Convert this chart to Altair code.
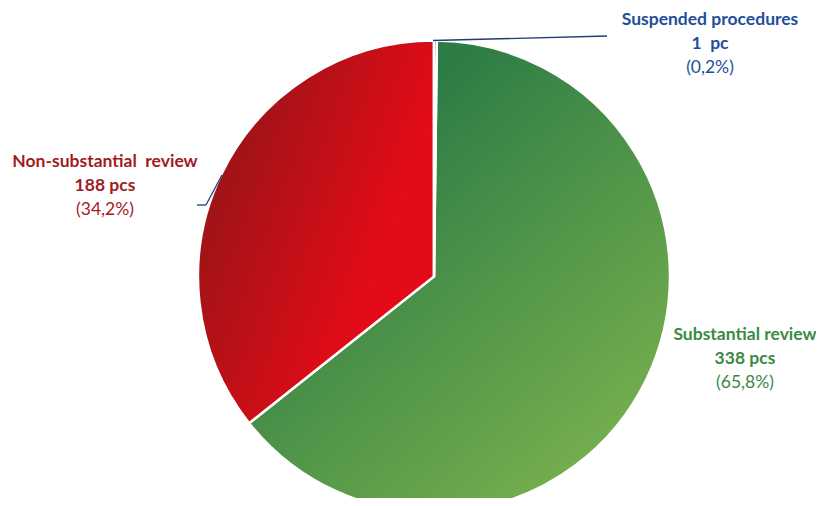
import altair as alt
import pandas as pd

# ---- data ----
categories = ["Suspended procedures", "Substantial review", "Non-substantial review"]
counts = [1, 338, 188]
count_labels = ["1\u00a0 pc", "338 pcs", "188 pcs"]
pct_labels = ["(0,2%)", "(65,8%)", "(34,2%)"]
display_names = ["Suspended procedures", "Substantial review", "Non-substantial\u00a0 review"]
order = [0, 1, 2]

df = pd.DataFrame({
    "category": categories,
    "name": display_names,
    "count": counts,
    "count_label": count_labels,
    "pct_label": pct_labels,
    "order": order,
})

# ---- layout / style (view coordinates; page = view + 8) ----
W, H = 808, 490
CX, CY, R = 426, 268.5, 236
FONT = "Lato"
FS = 17.5

fills = {
    "Substantial review": {
        "gradient": "linear", "x1": 0.35, "y1": 0.15, "x2": 1, "y2": 1,
        "stops": [{"offset": 0, "color": "#2e7c45"}, {"offset": 1, "color": "#84ba50"}],
    },
    "Non-substantial review": {
        "gradient": "linear", "x1": 0, "y1": 0.15, "x2": 0.75, "y2": 0.6,
        "stops": [{"offset": 0, "color": "#8c1616"}, {"offset": 1, "color": "#e30b18"}],
    },
    "Suspended procedures": "#1f3c78",
}
text_colors = {
    "Suspended procedures": "#1f4e9c",
    "Substantial review": "#3a8a45",
    "Non-substantial review": "#a01c1f",
}
label_pos = {
    "Suspended procedures": (702, 12),
    "Substantial review": (737, 327),
    "Non-substantial review": (97, 154),
}
LINE_GAP = 24

base = (
    alt.Chart(df)
    .transform_window(cum="sum(count)", sort=[alt.SortField("order")], frame=[None, 0])
    .transform_joinaggregate(total="sum(count)")
    .transform_calculate(
        start="(datum.cum - datum.count) / datum.total",
        end="datum.cum / datum.total",
    )
)

theta_scale = alt.Scale(domain=[0, 1])

layers = []
for cat in ["Substantial review", "Non-substantial review", "Suspended procedures"]:
    layers.append(
        base.transform_filter(alt.datum.category == cat)
        .mark_arc(outerRadius=R, fill=fills[cat], stroke="white", strokeWidth=2.5)
        .encode(
            theta=alt.Theta("start:Q", scale=theta_scale, stack=None),
            theta2="end:Q",
            x=alt.value(CX),
            y=alt.value(CY),
        )
    )

# leader lines
NAVY = "#1f3c78"
leader = alt.Chart(df.head(1))
layers.append(leader.mark_rule(color=NAVY, strokeWidth=1.3).encode(
    x=alt.value(CX - 1), y=alt.value(CY - R), x2=alt.value(599), y2=alt.value(28)))
layers.append(leader.mark_rule(color=NAVY, strokeWidth=1.3).encode(
    x=alt.value(189), y=alt.value(197), x2=alt.value(198), y2=alt.value(197)))
layers.append(leader.mark_rule(color=NAVY, strokeWidth=1.3).encode(
    x=alt.value(198), y=alt.value(197), x2=alt.value(214), y2=alt.value(167)))

for cat in categories:
    lx, ly = label_pos[cat]
    col = text_colors[cat]
    sub = base.transform_filter(alt.datum.category == cat)
    for i, (field, weight) in enumerate([("name", "bold"), ("count_label", "bold"), ("pct_label", "normal")]):
        layers.append(
            sub.mark_text(font=FONT, fontSize=FS, fontWeight=weight, color=col,
                          align="center", baseline="middle")
            .encode(text=f"{field}:N", x=alt.value(lx), y=alt.value(ly + i * LINE_GAP))
        )

chart = (
    alt.layer(*layers)
    .properties(width=W, height=H, padding=0, autosize=alt.AutoSizeParams(type="none"))
    .configure_view(stroke=None)
)

chart.save("out.html", embed_options={"renderer": "svg", "actions": False})
